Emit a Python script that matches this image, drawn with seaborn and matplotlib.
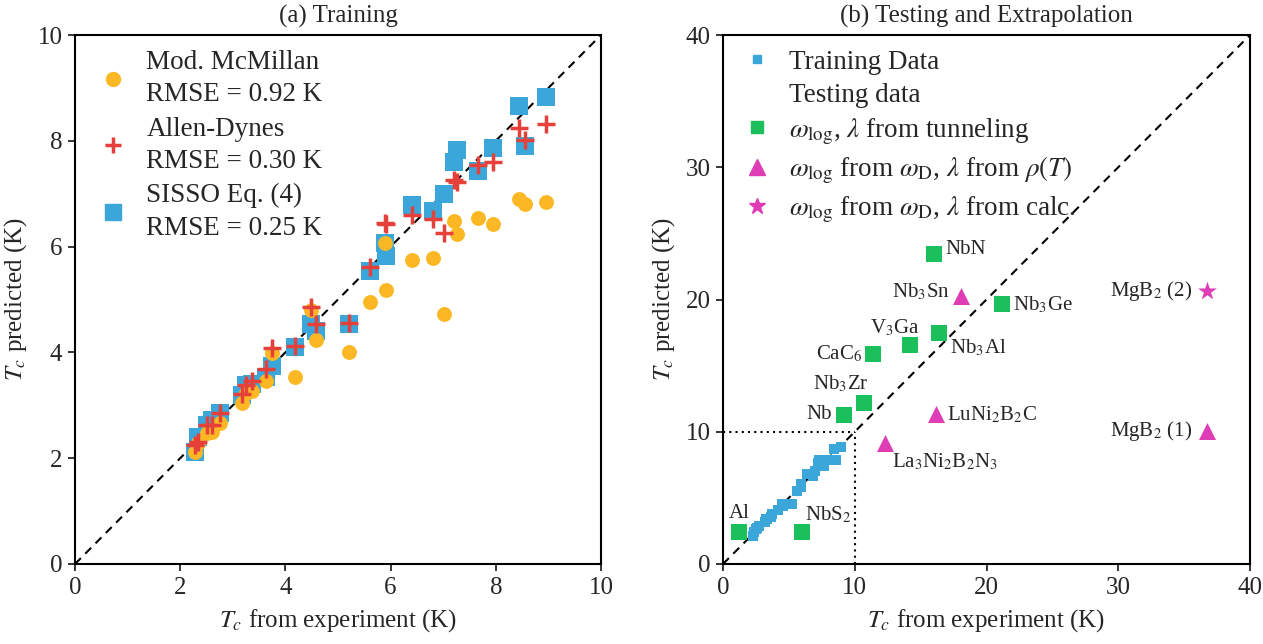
import numpy as np
import pandas as pd
import matplotlib
matplotlib.use("Agg")
import matplotlib.pyplot as plt
import seaborn as sns
from matplotlib.lines import Line2D

# ---------------- data ----------------
tc_exp = [2.28, 2.34, 2.50, 2.60, 2.76, 3.17, 3.26, 3.37, 3.64, 3.75, 4.18, 4.48, 4.59,
          5.20, 5.61, 5.90, 5.92, 6.41, 6.81, 7.01, 7.20, 7.27, 7.66, 7.95, 8.45, 8.56, 8.95]
tc_sisso = [2.12, 2.41, 2.62, 2.72, 2.85, 3.19, 3.38, 3.40, 3.53, 3.75, 4.11, 4.53, 4.40,
            4.53, 5.53, 6.07, 5.82, 6.79, 6.68, 7.00, 7.60, 7.83, 7.43, 7.86, 8.66, 7.90, 8.83]
tc_allen = [2.25, 2.31, 2.63, 2.63, 2.85, 3.21, 3.38, 3.46, 3.69, 4.08, 4.12, 4.86, 4.53,
            4.55, 5.61, 6.44, 6.42, 6.60, 6.53, 6.25, 7.26, 7.22, 7.54, 7.60, 8.25, 8.02, 8.31]
tc_mcmillan = [2.12, 2.28, 2.47, 2.50, 2.66, 3.04, 3.23, 3.27, 3.46, 3.98, 3.53, 4.81, 4.24,
               4.00, 4.95, 6.06, 5.18, 5.75, 5.78, 4.72, 6.48, 6.24, 6.55, 6.43, 6.90, 6.80, 6.84]

test_names = ["Al", "NbS$_2$", "Nb", "Nb$_3$Zr", "CaC$_6$", "V$_3$Ga", "Nb$_3$Al", "NbN",
              "Nb$_3$Ge", "Nb$_3$Sn", "LuNi$_2$B$_2$C", "La$_3$Ni$_2$B$_2$N$_3$",
              "MgB$_2$ (1)", "MgB$_2$ (2)"]
test_exp = [1.18, 5.98, 9.19, 10.68, 11.42, 14.17, 16.38, 16.00, 21.18, 18.03, 16.14, 12.26, 36.75, 36.75]
test_pred = [2.40, 2.45, 11.30, 12.17, 15.86, 16.54, 17.47, 23.43, 19.65, 20.25, 11.31, 9.17, 10.03, 20.63]
test_kind = ["tunnel", "tunnel", "tunnel", "tunnel", "tunnel", "tunnel", "tunnel", "tunnel",
             "tunnel", "rho", "rho", "rho", "rho", "calc"]

# label layout (offset pixels, ha)
label_layout = {
    "Al": (1, 19, "center"), "NbS$_2$": (3, 17, "left"), "Nb": (-12, 0, "right"),
    "Nb$_3$Zr": (-23, 19, "center"), "CaC$_6$": (-11, 0, "right"), "V$_3$Ga": (-15, 17, "center"),
    "Nb$_3$Al": (11, -15, "left"), "NbN": (12, 5, "left"), "Nb$_3$Ge": (11, -1, "left"),
    "Nb$_3$Sn": (-11, 4, "right"), "LuNi$_2$B$_2$C": (11, -1, "left"),
    "La$_3$Ni$_2$B$_2$N$_3$": (7, -19, "left"), "MgB$_2$ (1)": (-15, 0, "right"),
    "MgB$_2$ (2)": (-15, 0, "right"),
}

# ---------------- style ----------------
sns.set_style("ticks")
plt.rcParams["font.family"] = ["Liberation Serif", "DejaVu Serif"]
plt.rcParams["mathtext.fontset"] = "stix"
plt.rcParams["axes.linewidth"] = 1.5

ORANGE = "#FBB724"
RED = "#E5413A"
BLUE = "#3BA6DA"
GREEN = "#1BBF5C"
MAGENTA = "#DF3DB5"

fig = plt.figure(figsize=(12.63, 6.44), dpi=100)
ax1 = fig.add_axes([75 / 1263, 80 / 644, 526 / 1263, 529 / 644])
ax2 = fig.add_axes([723 / 1263, 80 / 644, 527 / 1263, 529 / 644])

FS = 18
LFS = 19.5

# ---------------- panel (a) ----------------
ax1.plot([0, 10], [0, 10], ls=(0, (4, 3)), color="black", lw=1.5, zorder=1)
sns.scatterplot(x=tc_exp, y=tc_sisso, marker="s", s=160, color=BLUE, linewidth=0, ax=ax1, zorder=2)
sns.scatterplot(x=tc_exp, y=tc_mcmillan, marker="o", s=115, color=ORANGE, linewidth=0, ax=ax1, zorder=3)
sns.scatterplot(x=tc_exp, y=tc_allen, marker="+", s=150, color=RED, linewidth=2.5, ax=ax1, zorder=4)
ax1.set_xlim(0, 10)
ax1.set_ylim(0, 10)
ax1.set_xticks([0, 2, 4, 6, 8, 10])
ax1.set_yticks([0, 2, 4, 6, 8, 10])
ax1.set_title("(a) Training", fontsize=FS, pad=9)
ax1.set_xlabel(r"$T_c$ from experiment (K)", fontsize=FS, labelpad=6)
ax1.set_ylabel(r"$T_c$ predicted (K)", fontsize=FS, labelpad=6)

h_a = [Line2D([], [], ls="", marker="o", ms=10, color=ORANGE, mec=ORANGE),
       Line2D([], [], ls="", marker="+", ms=11, mew=2.5, color=RED),
       Line2D([], [], ls="", marker="s", ms=11, color=BLUE, mec=BLUE)]
l_a = ["Mod. McMillan\nRMSE = 0.92 K", "Allen-Dynes\nRMSE = 0.30 K", "SISSO Eq. (4)\nRMSE = 0.25 K"]
leg_a = ax1.legend(h_a, l_a, loc="upper left", bbox_to_anchor=(0.02, 1.0), frameon=False, fontsize=LFS,
                   handlelength=0.9, handletextpad=0.8, borderpad=0.3, borderaxespad=0.25,
                   labelspacing=0.35)
for t in leg_a.get_texts():
    t.set_linespacing(1.38)

# ---------------- panel (b) ----------------
ax2.plot([0, 40], [0, 40], ls=(0, (4, 3)), color="black", lw=1.5, zorder=1)
ax2.plot([0, 10], [10, 10], ls=(0, (1, 2)), color="black", lw=1.5, zorder=1)
ax2.plot([10, 10], [0, 10], ls=(0, (1, 2)), color="black", lw=1.5, zorder=1)
sns.scatterplot(x=tc_exp, y=tc_sisso, marker="s", s=50, color=BLUE, linewidth=0, ax=ax2, zorder=2)

df = pd.DataFrame({"exp": test_exp, "pred": test_pred, "kind": test_kind, "name": test_names})
style = {"tunnel": ("s", 135, GREEN), "rho": ("^", 150, MAGENTA), "calc": ("*", 200, MAGENTA)}
for kind, (mk, sz, col) in style.items():
    sub = df[df["kind"] == kind]
    sns.scatterplot(data=sub, x="exp", y="pred", marker=mk, s=sz, color=col, linewidth=0,
                    ax=ax2, zorder=3, legend=False)
for name, xe, yp in zip(test_names, test_exp, test_pred):
    dx, dy, ha = label_layout[name]
    ax2.annotate(name, (xe, yp), xytext=(dx, dy), textcoords="offset pixels",
                 ha=ha, va="center", fontsize=15)

ax2.set_xlim(0, 40)
ax2.set_ylim(0, 40)
ax2.set_xticks([0, 10, 20, 30, 40])
ax2.set_yticks([0, 10, 20, 30, 40])
ax2.set_title("(b) Testing and Extrapolation", fontsize=FS, pad=9)
ax2.set_xlabel(r"$T_c$ from experiment (K)", fontsize=FS, labelpad=6)
ax2.set_ylabel(r"$T_c$ predicted (K)", fontsize=FS, labelpad=6)

h_b = [Line2D([], [], ls="", marker="s", ms=6, color=BLUE, mec=BLUE),
       Line2D([], [], ls="", marker=""),
       Line2D([], [], ls="", marker="s", ms=9, color=GREEN, mec=GREEN),
       Line2D([], [], ls="", marker="^", ms=11, color=MAGENTA, mec=MAGENTA),
       Line2D([], [], ls="", marker="*", ms=12, color=MAGENTA, mec=MAGENTA)]
l_b = ["Training Data", "Testing data",
       r"$\omega_{\rm log}$, $\lambda$ from tunneling",
       r"$\omega_{\rm log}$ from $\omega_{\rm D}$, $\lambda$ from $\rho(T)$",
       r"$\omega_{\rm log}$ from $\omega_{\rm D}$, $\lambda$ from calc."]
ax2.legend(h_b, l_b, loc="upper left", bbox_to_anchor=(0.01, 1.0), frameon=False, fontsize=LFS,
           handlelength=1.0, handletextpad=0.7, borderpad=0.3, borderaxespad=0.25, labelspacing=0.3)

for ax in (ax1, ax2):
    ax.tick_params(direction="out", length=5, width=1.3, labelsize=FS, pad=4,
                   top=False, right=False)
    for sp in ax.spines.values():
        sp.set_visible(True)
        sp.set_linewidth(1.5)
        sp.set_color("black")

fig.savefig("out.png", dpi=100)
